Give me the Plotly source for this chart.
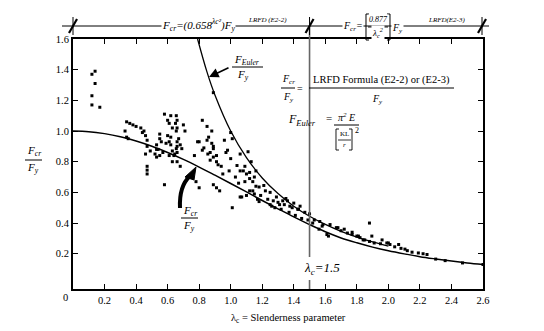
import plotly.graph_objects as go

# --- column test results: slenderness parameter vs. Fcr/Fy ---
test_lambda = [
    0.12, 0.14, 0.14, 0.12, 0.12, 0.17,
    0.34, 0.36, 0.38, 0.33, 0.34, 0.35, 0.43, 0.45, 0.46, 0.47, 0.49, 0.46, 0.47, 0.47, 0.47, 0.47, 0.40, 0.44,
    0.53, 0.53, 0.55, 0.55, 0.56, 0.57, 0.52, 0.53, 0.58, 0.60, 0.61, 0.62, 0.60, 0.61, 0.62, 0.63, 0.61, 0.64,
    0.66, 0.67, 0.66, 0.66, 0.63, 0.655, 0.66, 0.65, 0.63, 0.655, 0.70, 0.71, 0.62, 0.66, 0.68, 0.655, 0.69,
    0.645, 0.66, 0.68, 0.55, 0.58, 0.54, 0.59,
    0.82, 0.85, 0.88, 0.79, 0.85, 0.88, 0.89, 0.82, 0.855, 0.89, 0.87, 0.91, 0.94, 0.96, 0.98, 1.00, 0.99,
    0.77, 0.80, 0.89, 0.87, 0.91, 0.97, 0.78, 0.80, 0.89, 0.91, 0.93, 0.83, 0.86, 0.92, 0.95,
    1.01, 1.04, 1.06, 1.06, 1.11, 1.09, 1.12, 1.16, 1.08, 1.10, 1.12, 1.09, 1.14, 1.16, 1.18, 1.12, 1.15,
    1.19, 1.17, 1.07, 1.10, 1.01, 1.06, 1.14, 1.18, 1.03, 1.05, 1.13, 1.15,
    1.22, 1.235, 1.25, 1.26, 1.27, 1.31, 1.33, 1.36, 1.375, 1.39, 1.425, 1.47, 1.50, 1.30, 1.34, 1.43,
    1.53, 1.58, 1.56, 1.29, 1.25, 1.21, 1.28, 1.32, 1.37, 1.41, 1.45, 1.49, 1.52, 1.40, 1.44, 1.35,
    1.565, 1.585, 1.63, 1.67, 1.72, 1.62, 1.77, 1.80, 1.82, 1.84, 1.88, 1.91, 1.95, 1.99, 2.01, 1.88,
    1.68, 1.77, 1.81, 1.85, 1.61, 1.895, 1.96, 2.00, 2.065, 2.105, 2.15, 2.19, 2.22, 2.245, 1.70, 1.74,
    2.04, 2.08, 2.12, 2.30, 2.36, 2.47, 2.60,
    0.89, 1.00,
]
test_ratio = [
    1.37, 1.39, 1.31, 1.23, 1.17, 1.155,
    1.06, 1.05, 1.04, 1.00, 0.96, 0.95, 1.02, 1.00, 0.97, 0.94, 0.87, 0.85, 0.90, 0.77, 0.745, 0.72, 1.03, 0.99,
    0.91, 0.88, 0.98, 0.95, 0.93, 0.86, 0.85, 0.83, 1.11, 1.07, 1.05, 1.10, 0.97, 0.93, 0.91, 0.87, 0.84, 0.84,
    1.02, 0.95, 0.90, 0.86, 0.80, 1.10, 1.07, 1.05, 1.02, 1.00, 1.04, 1.00, 0.96, 0.93, 0.91, 0.885, 0.885,
    0.85, 0.80, 0.77, 0.84, 0.65, 0.88, 0.92,
    1.07, 1.03, 1.00, 0.93, 0.94, 0.92, 0.885, 0.875, 0.85, 0.83, 0.81, 0.80, 0.77, 0.94, 0.875, 0.82, 0.74,
    0.84, 0.93, 0.90, 0.86, 0.84, 0.86, 0.67, 0.63, 0.65, 0.63, 0.61, 0.89, 0.96, 0.78, 0.72,
    0.95, 0.775, 0.74, 0.85, 0.865, 0.77, 0.73, 0.74, 0.74, 0.72, 0.69, 0.67, 0.67, 0.64, 0.635, 0.61, 0.59,
    0.58, 0.555, 0.57, 0.58, 0.50, 0.57, 0.61, 0.54, 0.70, 0.66, 0.80, 0.70,
    0.61, 0.555, 0.52, 0.51, 0.545, 0.52, 0.545, 0.545, 0.51, 0.50, 0.49, 0.47, 0.46, 0.535, 0.52, 0.49,
    0.42, 0.38, 0.36, 0.57, 0.60, 0.645, 0.50, 0.49, 0.47, 0.45, 0.43, 0.42, 0.40, 0.53, 0.51, 0.56,
    0.41, 0.39, 0.39, 0.37, 0.36, 0.315, 0.34, 0.315, 0.305, 0.29, 0.28, 0.27, 0.265, 0.27, 0.26, 0.40,
    0.37, 0.325, 0.315, 0.29, 0.325, 0.315, 0.29, 0.27, 0.26, 0.23, 0.21, 0.205, 0.20, 0.195, 0.35, 0.335,
    0.245, 0.235, 0.22, 0.165, 0.155, 0.14, 0.13,
    1.25, 0.99,
]

# --- LRFD column curve (E2-2 up to lambda_c = 1.5, E2-3 beyond) ---
lrfd_lambda = [0.0, 0.1, 0.2, 0.3, 0.4, 0.5, 0.6, 0.7, 0.8, 0.9, 1.0, 1.1, 1.2, 1.3,
               1.4, 1.5, 1.6, 1.7, 1.8, 1.9, 2.0, 2.1, 2.2, 2.3, 2.4, 2.5, 2.6]
lrfd_ratio = [1.000, 0.996, 0.983, 0.963, 0.935, 0.901, 0.860, 0.815, 0.765, 0.712, 0.658,
              0.603, 0.547, 0.493, 0.440, 0.390, 0.343, 0.303, 0.271, 0.243, 0.219, 0.199,
              0.181, 0.166, 0.152, 0.140, 0.130]

# --- Euler curve ---
euler_lambda = [0.79, 0.85, 0.90, 1.0, 1.1, 1.2, 1.3, 1.4, 1.5, 1.6, 1.7, 1.8, 1.9, 2.0]
euler_ratio = [1.60, 1.384, 1.235, 1.000, 0.826, 0.694, 0.592, 0.510, 0.444, 0.391,
               0.346, 0.309, 0.277, 0.250]

x_ticks = [0.2, 0.4, 0.6, 0.8, 1.0, 1.2, 1.4, 1.6, 1.8, 2.0, 2.2, 2.4, 2.6]
x_tick_text = ["0.2", "0.4", "0.6", "0.8", "1.0", "1.2", "1.4", "1.6", "1.8", "2.0", "2.2", "2.4", "2.6"]
y_ticks = [0.2, 0.4, 0.6, 0.8, 1.0, 1.2, 1.4, 1.6]
y_tick_text = ["0.2", "0.4", "0.6", "0.8", "1.0", "1.2", "1.4", "1.6"]

lambda_limit = 1.5

W, H = 544, 331
ML, MR, MT, MB = 73, 61, 39, 42
PW, PH = W - ML - MR, H - MT - MB


def P(xp, yp):
    """page pixel -> paper coordinates"""
    return (xp - ML) / PW, (H - MB - yp) / PH


SERIF = "Liberation Serif"

fig = go.Figure()
fig.add_trace(go.Scatter(x=lrfd_lambda, y=lrfd_ratio, mode="lines",
                         line=dict(color="black", width=1.5, shape="spline"),
                         hoverinfo="skip"))
fig.add_trace(go.Scatter(x=euler_lambda, y=euler_ratio, mode="lines",
                         line=dict(color="black", width=1.3, shape="spline"),
                         hoverinfo="skip"))
fig.add_trace(go.Scatter(x=test_lambda, y=test_ratio, mode="markers",
                         marker=dict(color="black", size=3, symbol="square"),
                         hoverinfo="skip"))

shapes = []
annotations = []


def text(t, xp, yp, size=11, italic=False, bg=None, xanchor="center"):
    x, y = P(xp, yp)
    a = dict(x=x, y=y, xref="paper", yref="paper", text=t, showarrow=False,
             xanchor=xanchor, yanchor="middle",
             font=dict(family=SERIF, size=size, color="black",
                       style="italic" if italic else "normal"))
    if bg:
        a["bgcolor"] = bg
        a["borderpad"] = 0
    annotations.append(a)


def seg(x0, y0, x1, y1, width=1.0, color="black"):
    a0, b0 = P(x0, y0)
    a1, b1 = P(x1, y1)
    shapes.append(dict(type="line", xref="paper", yref="paper", x0=a0, y0=b0, x1=a1, y1=b1,
                       line=dict(color=color, width=width)))


def path(pts, width=1.0, close=False, fill=None):
    s = ""
    for i, (xp, yp) in enumerate(pts):
        x, y = P(xp, yp)
        s += ("M" if i == 0 else "L") + f"{x:.5f},{y:.5f} "
    if close:
        s += "Z"
    d = dict(type="path", xref="paper", yref="paper", path=s,
             line=dict(color="black", width=width))
    if fill:
        d["fillcolor"] = fill
    shapes.append(d)


# λc = 1.5 division line (broken where it is labelled)
xl = ML + lambda_limit * PW / 2.6
seg(xl, 26, xl, 257, width=1.6, color="#666666")
seg(xl, 280, xl, 289, width=1.6, color="#666666")

# range bar across the top with the two formulas
bar_y = 26
seg(62, bar_y, 489, bar_y, width=1.0)
for xc in (73, xl, 482):
    seg(xc, bar_y - 9, xc, bar_y + 9, width=1.0)
    seg(xc - 4, bar_y + 7, xc + 4, bar_y - 7, width=2.2)

text("F<sub>cr</sub>=(0.658<sup>λc²</sup>)F<sub>y</sub>", 198, 25, size=11,
     italic=True, bg="white")
text("LRFD (E2-2)", 267, 20, size=7, italic=True)
text("F<sub>cr</sub>=", 353, 27, size=10, italic=True, bg="white")
text("0.877", 378, 20, size=8, italic=True, bg="white")
text("λ<sub>c</sub><sup>2</sup>", 378, 33, size=9, italic=True, bg="white")
seg(368, 27, 388, 27, width=0.9)
path([(369, 14), (366, 14), (366, 40), (369, 40)], width=1.0)
path([(387, 14), (390, 14), (390, 40), (387, 40)], width=1.0)
text("F<sub>y</sub>", 397, 29, size=10, italic=True, bg="white")
text("LRFD(E2-3)", 446, 20, size=7, italic=True)

# Fcr/Fy definition
text("F<sub>cr</sub>", 288, 79, size=10, italic=True)
seg(281, 88, 295, 88, width=1.0)
text("F<sub>y</sub>", 288, 97, size=10, italic=True)
text("=", 300, 89, size=10)
text("LRFD Formula (E2-2) or (E2-3)", 381, 80, size=10.5)
seg(309, 88, 454, 88, width=1.0)
text("F<sub>y</sub>", 377, 99, size=10, italic=True)

# Euler stress
text("F<sub>Euler</sub>", 302, 120, size=12, italic=True)
text("=", 329, 118, size=11)
text("π<sup>2</sup> E", 346, 117, size=10, italic=True)
seg(334, 125, 359, 125, width=1.0)
text("KL", 344, 134, size=7)
seg(338, 140, 351, 140, width=0.8)
text("r", 344, 145, size=7, italic=True)
path([(339, 129), (336, 129), (336, 150), (339, 150)], width=0.9)
path([(349, 129), (352, 129), (352, 150), (349, 150)], width=0.9)
text("2", 357, 130, size=8)

# λc label at the division line
text("λ<sub>c</sub>=1.5", 322, 268, size=13, italic=True)

# Euler curve label and arrow
text("F<sub>Euler</sub>", 247, 60, size=11, italic=True)
seg(232, 67, 263, 67, width=1.0)
text("F<sub>y</sub>", 243, 75, size=11, italic=True)
ex, ey = P(209, 77)
annotations.append(dict(x=ex, y=ey, xref="paper", yref="paper", text="", showarrow=True,
                        ax=21, ay=-10, arrowhead=2, arrowsize=1.2, arrowwidth=1.6,
                        arrowcolor="black"))

# LRFD curve label with heavy curved arrow
text("F<sub>cr</sub>", 190, 211, size=11, italic=True)
seg(181, 218, 198, 218, width=1.0)
text("F<sub>y</sub>", 189, 226, size=11, italic=True)
p0, p1, p2 = P(180, 208), P(179, 186), P(190, 176)
shapes.append(dict(type="path", xref="paper", yref="paper",
                   path=f"M{p0[0]:.5f},{p0[1]:.5f} Q{p1[0]:.5f},{p1[1]:.5f} {p2[0]:.5f},{p2[1]:.5f}",
                   line=dict(color="black", width=4)))
path([(185, 177), (196, 167), (194, 180)], width=1, close=True, fill="black")

# axis titles
text("F<sub>cr</sub>", 34, 151, size=11, italic=True)
seg(25, 160, 42, 160, width=1.0)
text("F<sub>y</sub>", 33, 168, size=11, italic=True)
text("0", 65, 297, size=10.5)
text("λ<sub>c</sub> = Slenderness parameter", 288, 318, size=10.5)

fig.update_layout(
    width=W, height=H,
    margin=dict(l=ML, r=MR, t=MT, b=MB),
    paper_bgcolor="white", plot_bgcolor="white",
    showlegend=False,
    shapes=shapes,
    annotations=annotations,
    xaxis=dict(range=[0, 2.6], tickvals=x_ticks, ticktext=x_tick_text,
               ticks="inside", ticklen=5, tickwidth=1, tickcolor="black",
               showline=True, linecolor="black", linewidth=2, mirror="ticks",
               showgrid=False, zeroline=False,
               tickfont=dict(family=SERIF, size=10.5, color="black")),
    yaxis=dict(range=[-0.03, 1.6], tickvals=y_ticks, ticktext=y_tick_text,
               ticks="inside", ticklen=5, tickwidth=1, tickcolor="black",
               showline=True, linecolor="black", linewidth=2, mirror="ticks",
               showgrid=False, zeroline=False,
               tickfont=dict(family=SERIF, size=10.5, color="black")),
)

fig.write_html("out.html")
